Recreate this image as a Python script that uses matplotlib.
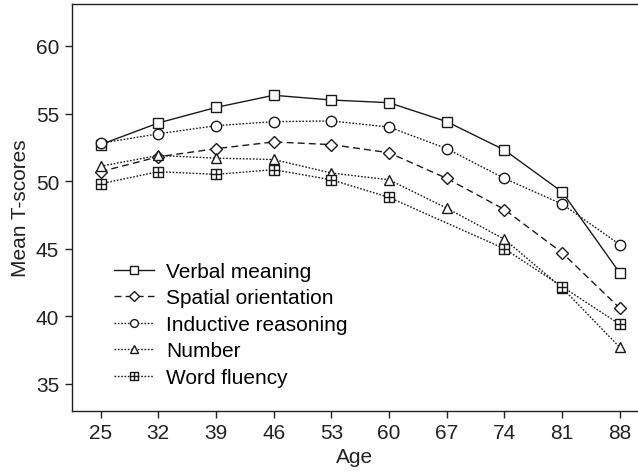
import matplotlib
matplotlib.use("Agg")
import matplotlib.pyplot as plt
from matplotlib.path import Path

plt.rcParams['font.family'] = ['Liberation Sans', 'DejaVu Sans']

ages = [25, 32, 39, 46, 53, 60, 67, 74, 81, 88]

verbal_meaning = [52.7, 54.3, 55.45, 56.35, 56.0, 55.8, 54.4, 52.3, 49.2, 43.2]
spatial_orientation = [50.7, 51.8, 52.4, 52.9, 52.7, 52.1, 50.2, 47.9, 44.7, 40.6]
inductive_reasoning = [52.8, 53.5, 54.1, 54.4, 54.45, 54.0, 52.4, 50.2, 48.3, 45.3]
number = [51.1, 51.9, 51.7, 51.6, 50.6, 50.1, 48.0, 45.7, 42.1, 37.7]
word_fluency = [49.8, 50.7, 50.5, 50.85, 50.1, 48.8, 46.9, 45.0, 42.2, 39.4]

series_names = ["Verbal meaning", "Spatial orientation", "Inductive reasoning",
                "Number", "Word fluency"]

# square with an inner cross
M, L, C = Path.MOVETO, Path.LINETO, Path.CLOSEPOLY
boxed_plus = Path(
    [(-1, -1), (1, -1), (1, 1), (-1, 1), (-1, -1), (0, -1), (0, 1), (-1, 0), (1, 0)],
    [M, L, L, L, C, M, L, M, L],
)

ink = "#1a1a1a"
styles = [
    dict(ls="-", marker="s", ms=7),
    dict(ls=(0, (5, 3)), marker="D", ms=6.3),
    dict(ls=(0, (1.2, 1.2)), marker="o", ms=7.5),
    dict(ls=(0, (1.2, 1.2)), marker="^", ms=7.5),
    dict(ls=(0, (1.2, 1.2)), marker=boxed_plus, ms=7.5, markevery=[0, 1, 2, 3, 4, 5, 7, 8, 9]),
]
series = [verbal_meaning, spatial_orientation, inductive_reasoning, number, word_fluency]

fig = plt.figure(figsize=(6.38, 4.77), dpi=100)
ax = fig.add_axes([0.1124, 0.1363, 0.8876, 0.8532])

for name, vals, st in zip(series_names, series, styles):
    ax.plot(ages, vals, color=ink, lw=1.0, mfc="white", mec=ink, mew=1.0,
            label=name, **st)

ax.set_xlim(21.5, 90.2)
ax.set_ylim(33.0, 63.1)
ax.set_xticks(ages)
ax.set_yticks([35, 40, 45, 50, 55, 60])
ax.tick_params(labelsize=15, colors="#222222", length=5, width=1, pad=4)
ax.set_xlabel("Age", fontsize=15, color="#222222", labelpad=3)
ax.set_ylabel("Mean T-scores", fontsize=15, color="#222222", labelpad=4)

for side in ("left", "bottom", "top"):
    ax.spines[side].set_color("#222222")
    ax.spines[side].set_linewidth(1.0)
ax.spines["right"].set_visible(False)

leg = ax.legend(loc="lower left", bbox_to_anchor=(0.042, 0.013), frameon=False,
                fontsize=15, handlelength=1.9, handletextpad=0.6,
                labelspacing=0.36, numpoints=1, markerscale=0.75)

fig.savefig("out.png", dpi=100)
